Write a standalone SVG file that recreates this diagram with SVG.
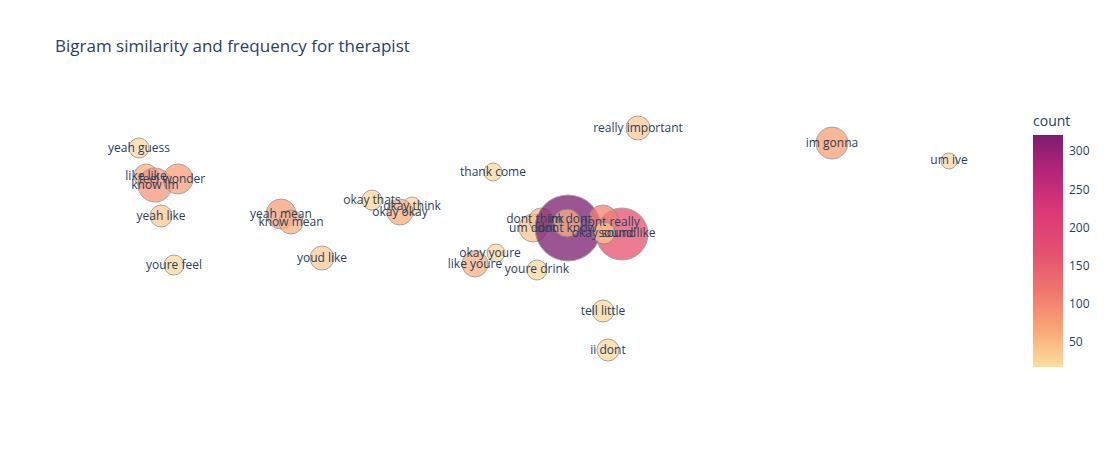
<svg xmlns="http://www.w3.org/2000/svg" width="1110" height="459" viewBox="0 0 1110 459">
<defs>
<linearGradient id="cb" x1="0" y1="1" x2="0" y2="0">
<stop offset="0" stop-color="#fcde9c"/><stop offset="0.167" stop-color="#faa476"/><stop offset="0.333" stop-color="#f0746e"/><stop offset="0.5" stop-color="#e34f6f"/><stop offset="0.667" stop-color="#dc3977"/><stop offset="0.833" stop-color="#b9257a"/><stop offset="1" stop-color="#7c1d6f"/>
</linearGradient>
<style>
circle{stroke:#888;stroke-width:1;opacity:0.75}
text{font-family:"Open Sans","Liberation Sans",sans-serif;fill:#2a3f5f;font-size:12px}
.l{text-anchor:middle}
</style>
</defs>
<rect width="1110" height="459" fill="#fff"/>
<text x="55" y="52" style="font-size:17px">Bigram similarity and frequency for therapist</text>
<g id="bubbles">
<circle cx="139" cy="148" r="10" fill="#fcd79a"/>
<circle cx="146" cy="176" r="12" fill="#fbb07f"/>
<circle cx="155" cy="185" r="17" fill="#f6957a"/>
<circle cx="178" cy="179" r="15" fill="#fa9f75"/>
<circle cx="161" cy="216" r="11" fill="#fcc991"/>
<circle cx="174" cy="265" r="10" fill="#fcd79a"/>
<circle cx="281" cy="214" r="15" fill="#f9a072"/>
<circle cx="291" cy="222" r="12" fill="#fbb07f"/>
<circle cx="322" cy="258" r="12" fill="#fcc991"/>
<circle cx="372" cy="200" r="10" fill="#fcd79a"/>
<circle cx="412" cy="206" r="9" fill="#fcd79a"/>
<circle cx="400" cy="212" r="13" fill="#fbae7c"/>
<circle cx="493" cy="172" r="9" fill="#fcd79a"/>
<circle cx="496" cy="253" r="9" fill="#fcd79a"/>
<circle cx="475" cy="264" r="13" fill="#fbb07f"/>
<circle cx="537" cy="270" r="10" fill="#fcd79a"/>
<circle cx="638" cy="128" r="12" fill="#fcc991"/>
<circle cx="832" cy="143" r="16" fill="#faa072"/>
<circle cx="949" cy="161" r="8" fill="#fcd79a"/>
<circle cx="603" cy="311" r="11" fill="#fcd79a"/>
<circle cx="608" cy="350" r="11" fill="#fcd79a"/>
<circle cx="533" cy="228" r="14" fill="#fcc38c"/>
<circle cx="541" cy="220" r="12" fill="#fbba86"/>
<circle cx="568" cy="228" r="33" fill="#7c1d6f"/>
<circle cx="622" cy="234" r="26" fill="#e34f6f"/>
<circle cx="603" cy="220" r="15" fill="#f48270"/>
<circle cx="567" cy="223" r="14" fill="#fbb07f"/>
<circle cx="604" cy="233" r="11" fill="#fcc38c"/>
</g>
<g id="labels">
<text class="l" x="139" y="152">yeah guess</text>
<text class="l" x="146" y="180">like like</text>
<text class="l" x="172" y="183">feel wonder</text>
<text class="l" x="155" y="189">know im</text>
<text class="l" x="161" y="220">yeah like</text>
<text class="l" x="174" y="269">youre feel</text>
<text class="l" x="281" y="218">yeah mean</text>
<text class="l" x="291" y="226">know mean</text>
<text class="l" x="322" y="262">youd like</text>
<text class="l" x="372" y="204">okay thats</text>
<text class="l" x="412" y="210">okay think</text>
<text class="l" x="400" y="216">okay okay</text>
<text class="l" x="493" y="176">thank come</text>
<text class="l" x="490" y="257">okay youre</text>
<text class="l" x="475" y="268">like youre</text>
<text class="l" x="537" y="273">youre drink</text>
<text class="l" x="638" y="132">really important</text>
<text class="l" x="832" y="147">im gonna</text>
<text class="l" x="949" y="164">um ive</text>
<text class="l" x="603" y="315">tell little</text>
<text class="l" x="608" y="354">ii dont</text>
<text class="l" x="535" y="223">dont think</text>
<text class="l" x="570" y="223">im dont</text>
<text class="l" x="533" y="232">um dont</text>
<text class="l" x="567" y="232">dont know</text>
<text class="l" x="610" y="226">dont really</text>
<text class="l" x="604" y="237">okay sound</text>
<text class="l" x="627" y="237">sound like</text>
</g>
<g id="colorbar">
<text x="1033" y="126" style="font-size:14px">count</text>
<rect x="1033" y="135" width="30" height="232" fill="url(#cb)"/>
<text x="1069" y="155">300</text>
<text x="1069" y="194">250</text>
<text x="1069" y="232">200</text>
<text x="1069" y="270">150</text>
<text x="1069" y="308">100</text>
<text x="1069" y="346">50</text>
</g>
</svg>
